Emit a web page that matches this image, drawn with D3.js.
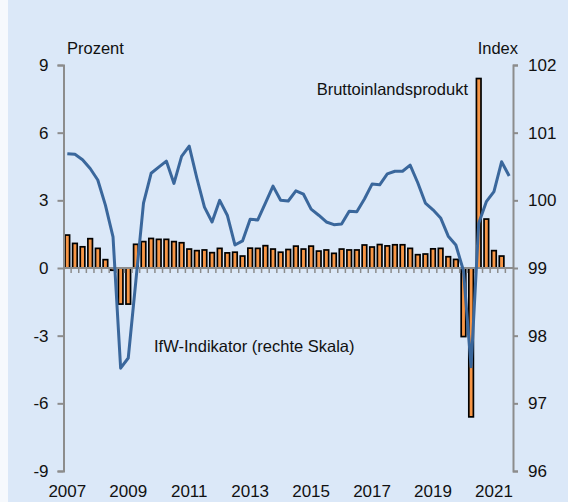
<!DOCTYPE html>
<html>
<head>
<meta charset="utf-8">
<script src="https://cdn.jsdelivr.net/npm/d3@7"></script>
<style>
  body { margin: 0; background: #f6f9fd; }
  svg { display: block; font-family: "Liberation Sans", Arial, sans-serif; }
</style>
</head>
<body>
<svg id="chart"></svg>
<script>
// quarters 2007Q1 .. 2021Q3 (line runs one quarter longer than the bars)
const startYear = 2007;
const nQuarters = 59;

// Bruttoinlandsprodukt, Veraenderung gegenueber Vorquartal in Prozent (linke Skala)
const gdp = [
  1.46, 1.09, 0.94, 1.30,  0.87, 0.37, -0.10, -1.60,
  -1.60, 1.05, 1.17, 1.31,  1.27, 1.27, 1.17, 1.12,
  0.84, 0.77, 0.80, 0.68,  0.87, 0.67, 0.70, 0.53,
  0.88, 0.87, 0.99, 0.84,  0.70, 0.82, 0.97, 0.84,
  0.97, 0.75, 0.80, 0.65,  0.84, 0.80, 0.80, 1.02,
  0.93, 1.04, 0.98, 1.03,  1.03, 0.87, 0.59, 0.62,
  0.85, 0.87, 0.50, 0.38,  -3.04, -6.60, 8.40, 2.17,
  0.77, 0.53
];

// IfW-Indikator, Index (rechte Skala)
const ifw = [
  100.69, 100.68, 100.60, 100.47, 100.30, 99.93, 99.46, 97.52,
  97.67, 98.81, 99.96, 100.40, 100.49, 100.58, 100.25, 100.65,
  100.80, 100.33, 99.90, 99.68, 100.00, 99.78, 99.34, 99.40,
  99.72, 99.71, 99.96, 100.21, 100.00, 99.99, 100.14, 100.09,
  99.87, 99.78, 99.68, 99.64, 99.65, 99.84, 99.83, 100.02,
  100.24, 100.23, 100.39, 100.43, 100.43, 100.52, 100.26, 99.96,
  99.86, 99.74, 99.47, 99.34, 98.96, 97.54, 99.66, 99.98,
  100.13, 100.57, 100.36
];

const leftTicks = [-9, -6, -3, 0, 3, 6, 9];
const rightTicks = [96, 97, 98, 99, 100, 101, 102];
const yearLabels = [2007, 2009, 2011, 2013, 2015, 2017, 2019, 2021];

const width = 568, height = 502;
const margin = {top: 65, right: 55, bottom: 31, left: 63.5};

const svg = d3.select("#chart")
  .attr("width", width)
  .attr("height", height);

svg.append("rect")
  .attr("x", 8).attr("y", 0)
  .attr("width", width - 8).attr("height", height)
  .attr("fill", "#dbe8f8");

const x = d3.scaleBand()
  .domain(d3.range(nQuarters))
  .range([margin.left, width - margin.right])
  .padding(0);

const yL = d3.scaleLinear().domain([-9, 9]).range([height - margin.bottom, margin.top]);
const yR = d3.scaleLinear().domain([96, 102]).range([height - margin.bottom, margin.top]);

const axisColor = "#8c8c8c";
const x0 = margin.left, x1 = width - margin.right;

// bars
svg.append("g")
  .selectAll("rect")
  .data(gdp)
  .join("rect")
  .attr("x", (d, i) => x(i) + x.bandwidth() * 0.2)
  .attr("width", x.bandwidth() * 0.6)
  .attr("y", d => yL(Math.max(0, d)))
  .attr("height", d => Math.abs(yL(d) - yL(0)))
  .attr("fill", "#f79646")
  .attr("stroke", "#000")
  .attr("stroke-width", 1.7);

// zero line with quarter ticks
const zero = svg.append("g");
zero.append("line")
  .attr("x1", x0).attr("x2", x1)
  .attr("y1", yL(0)).attr("y2", yL(0))
  .attr("stroke", axisColor).attr("stroke-width", 2);
zero.selectAll("line.q")
  .data(d3.range(1, nQuarters))
  .join("line")
  .attr("class", "q")
  .attr("x1", i => x(i)).attr("x2", i => x(i))
  .attr("y1", yL(0)).attr("y2", yL(0) + 5)
  .attr("stroke", axisColor).attr("stroke-width", 1.5);

const fmt = d => String(d);

// left axis
const gl = svg.append("g")
  .attr("transform", `translate(${x0},0)`)
  .call(d3.axisLeft(yL).tickValues(leftTicks).tickSize(6).tickPadding(9).tickFormat(fmt));
gl.select(".domain").attr("stroke", axisColor).attr("stroke-width", 2);
gl.selectAll(".tick line").attr("stroke", axisColor).attr("stroke-width", 2);
gl.selectAll(".tick text").attr("font-size", 17).attr("fill", "#111")
  .attr("font-family", "Liberation Sans, Arial, sans-serif");

// right axis
const gr = svg.append("g")
  .attr("transform", `translate(${x1},0)`)
  .call(d3.axisRight(yR).tickValues(rightTicks).tickSize(5).tickPadding(10).tickFormat(fmt));
gr.select(".domain").attr("stroke", axisColor).attr("stroke-width", 2);
gr.selectAll(".tick line").attr("stroke", axisColor).attr("stroke-width", 2);
gr.selectAll(".tick text").attr("font-size", 17).attr("fill", "#111")
  .attr("font-family", "Liberation Sans, Arial, sans-serif");

// year labels
svg.append("g")
  .selectAll("text")
  .data(yearLabels)
  .join("text")
  .attr("x", d => x((d - startYear) * 4) + x.bandwidth() / 2)
  .attr("y", 497)
  .attr("text-anchor", "middle")
  .attr("font-size", 17)
  .attr("fill", "#111")
  .text(d => d);

// IfW line
const line = d3.line()
  .x((d, i) => x(i) + x.bandwidth() / 2)
  .y(d => yR(d));

svg.append("path")
  .datum(ifw)
  .attr("d", line)
  .attr("fill", "none")
  .attr("stroke", "#3a679c")
  .attr("stroke-width", 3)
  .attr("stroke-linejoin", "round");

// labels
const labels = svg.append("g").attr("font-size", 16.5).attr("fill", "#111");
labels.append("text").attr("x", 67).attr("y", 54).text("Prozent");
labels.append("text").attr("x", 518).attr("y", 54).attr("text-anchor", "end").text("Index");
labels.append("text").attr("x", 468).attr("y", 95).attr("text-anchor", "end").text("Bruttoinlandsprodukt");
labels.append("text").attr("x", 154).attr("y", 352).text("IfW-Indikator (rechte Skala)");
</script>
</body>
</html>
